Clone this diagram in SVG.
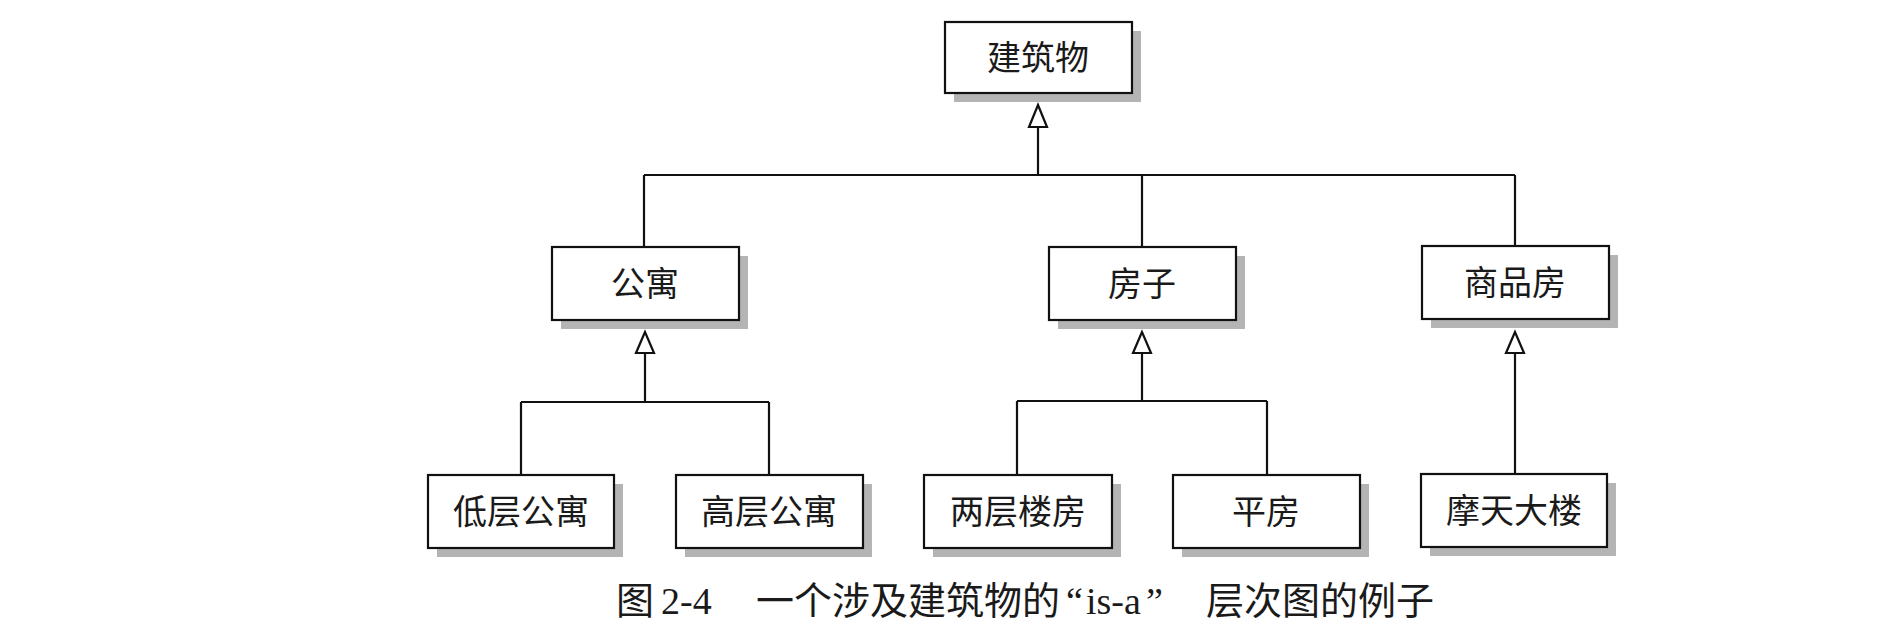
<svg xmlns="http://www.w3.org/2000/svg" width="1891" height="644" viewBox="0 0 1891 644">
<style>
.box{fill:#fff;stroke:#111;stroke-width:2.2}
.sh{fill:#b4b4b4}
.lbl{font-family:"Liberation Serif","Noto Sans CJK SC",serif;font-size:34px;fill:#1a1a1a;text-anchor:middle}
.ln{fill:none;stroke:#111;stroke-width:2.2}
.tri{fill:#fff;stroke:#111;stroke-width:2.2;stroke-linejoin:miter}
.cap{font-family:"Liberation Serif","Noto Sans CJK SC",serif;font-size:38px;fill:#1a1a1a}
</style>
<rect width="1891" height="644" fill="#fff"/>
<g id="connectors">
  <path class="ln" d="M1038 127 V175 M644 175 H1515 M644 175 V247 M1142 175 V247 M1515 175 V246"/>
  <polygon class="tri" points="1038,105 1029,127 1047,127"/>
  <path class="ln" d="M645 353 V402 M521 402 H769 M521 402 V475 M769 402 V475"/>
  <polygon class="tri" points="645,332 636,353 654,353"/>
  <path class="ln" d="M1142 353 V401 M1017 401 H1267 M1017 401 V475 M1267 401 V475"/>
  <polygon class="tri" points="1142,332 1133,353 1151,353"/>
  <path class="ln" d="M1515 353 V474"/>
  <polygon class="tri" points="1515,332 1506,353 1524,353"/>
</g>
<g id="n-jianzhuwu"><rect class="sh" x="954" y="31" width="187" height="71"/><rect class="box" x="945" y="22" width="187" height="71"/><text class="lbl" x="1038" y="70">建筑物</text></g>
<g id="n-gongyu"><rect class="sh" x="561" y="256" width="187" height="73"/><rect class="box" x="552" y="247" width="187" height="73"/><text class="lbl" x="645" y="296">公寓</text></g>
<g id="n-fangzi"><rect class="sh" x="1058" y="256" width="187" height="73"/><rect class="box" x="1049" y="247" width="187" height="73"/><text class="lbl" x="1142" y="296">房子</text></g>
<g id="n-shangpinfang"><rect class="sh" x="1431" y="255" width="187" height="73"/><rect class="box" x="1422" y="246" width="187" height="73"/><text class="lbl" x="1515" y="295">商品房</text></g>
<g id="n-dicenggongyu"><rect class="sh" x="437" y="484" width="186" height="73"/><rect class="box" x="428" y="475" width="186" height="73"/><text class="lbl" x="521" y="524">低层公寓</text></g>
<g id="n-gaocenggongyu"><rect class="sh" x="685" y="484" width="187" height="73"/><rect class="box" x="676" y="475" width="187" height="73"/><text class="lbl" x="769" y="524">高层公寓</text></g>
<g id="n-liangcengloufang"><rect class="sh" x="933" y="484" width="188" height="73"/><rect class="box" x="924" y="475" width="188" height="73"/><text class="lbl" x="1018" y="524">两层楼房</text></g>
<g id="n-pingfang"><rect class="sh" x="1182" y="484" width="187" height="73"/><rect class="box" x="1173" y="475" width="187" height="73"/><text class="lbl" x="1266" y="524">平房</text></g>
<g id="n-motiandalou"><rect class="sh" x="1430" y="483" width="186" height="73"/><rect class="box" x="1421" y="474" width="186" height="73"/><text class="lbl" x="1514" y="523">摩天大楼</text></g>
<text class="cap" y="614"><tspan x="616">图</tspan><tspan x="661">2-4</tspan><tspan x="756">一个涉及建筑物的</tspan><tspan x="1066">“</tspan><tspan x="1086">is-a</tspan><tspan x="1146">”</tspan><tspan x="1206">层次图的例子</tspan></text>
</svg>
